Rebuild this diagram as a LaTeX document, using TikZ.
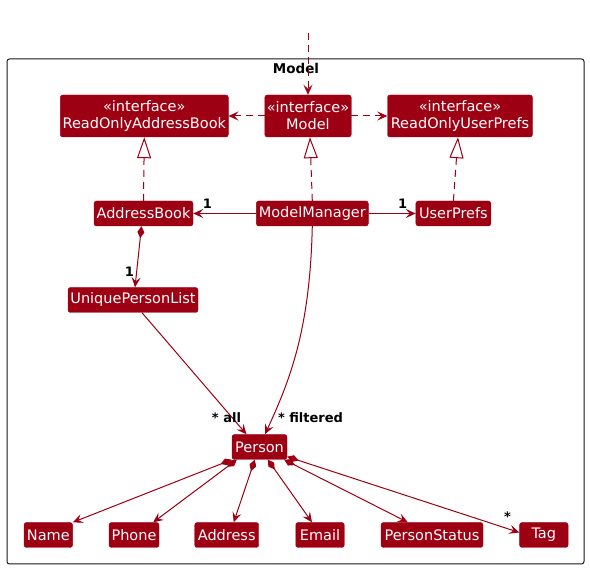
\documentclass[tikz,border=0pt]{standalone}
\usepackage{fontspec}
\setmainfont{DejaVu Sans}
\usetikzlibrary{arrows.meta,calc}
\definecolor{modelc}{HTML}{9D0012}
\definecolor{framec}{HTML}{181818}
\begin{document}
\begin{tikzpicture}[x=1pt,y=-1pt,
  cls/.style={draw=modelc, fill=modelc, text=white, rounded corners=2.5pt, minimum height=25pt, inner sep=0pt, font=\fontsize{14.5}{17}\selectfont, align=center},
  iface/.style={cls, minimum height=42pt},
  edge/.style={draw=modelc, line width=1pt},
  arr/.style={edge, -{Stealth[length=10pt,width=9pt,inset=4pt]}},
  dsh/.style={dash pattern=on 7pt off 5pt},
  real/.style={edge, dsh, -{Triangle[length=21pt,width=14pt,fill=white]}},
  comp/.style={edge, {Diamond[length=12pt,width=7pt]}-{Stealth[length=10pt,width=9pt,inset=4pt]}},
  lbl/.style={font=\fontsize{13}{13}\selectfont\bfseries, text=black, inner sep=0pt},
]
\useasboundingbox (0,0) rectangle (590,569);
% frame
\draw[framec, line width=1pt, rounded corners=2.5pt] (7,59) rectangle (584,564);
\node[font=\fontsize{13.5}{14}\selectfont\bfseries, inner sep=0pt] (title) at (296,68) {Model};

% nodes
\node[iface, minimum width=168pt] (roab) at (144.3,116) {«interface»\\ReadOnlyAddressBook};
\node[iface, minimum width=86.5pt] (model) at (308,116) {«interface»\\Model};
\node[iface, minimum width=145pt] (roup) at (460,116) {«interface»\\ReadOnlyUserPrefs};
\node[cls, minimum width=99pt] (ab) at (143.5,213.5) {AddressBook};
\node[cls, minimum width=112pt] (mm) at (312.3,213.5) {ModelManager};
\node[cls, minimum width=75pt] (up) at (453.4,213.5) {UserPrefs};
\node[cls, minimum width=130pt] (upl) at (133,300) {UniquePersonList};
\node[cls, minimum width=55pt] (person) at (259.5,447) {Person};
\node[cls, minimum width=48.6pt] (name) at (48.3,535) {Name};
\node[cls, minimum width=50pt] (phone) at (134,535) {Phone};
\node[cls, minimum width=64pt] (address) at (226.7,535) {Address};
\node[cls, minimum width=48.5pt] (email) at (320,535) {Email};
\node[cls, minimum width=102pt] (pstatus) at (432,535) {PersonStatus};
\node[cls, minimum width=48.5pt] (tag) at (543.8,535) {Tag};

% top incoming dependency
\coordinate (top) at (308,33);
\draw[arr, dsh] (top) -- (model.north);

% interface dependencies
\draw[arr, dsh] (model.west) -- (roab.east);
\draw[arr, dsh] (model.east) -- (roup.west);

% realizations
\draw[real] (ab.north) -- (roab.south);
\draw[real] (mm.north) -- ([xshift=2pt]model.south);
\draw[real] (up.north) -- ([xshift=-2pt]roup.south);

% associations
\draw[arr] (mm.west) -- (ab.east);
\node[lbl] (l1) at (207.5,204) {1};
\draw[arr] (mm.east) -- (up.west);
\node[lbl] (l2) at (402.6,204) {1};

\draw[comp] ([xshift=-2pt]ab.south) -- ([xshift=2pt]upl.north);
\node[lbl] (l3) at (129.5,272) {1};

\draw[arr] ([xshift=9pt]upl.south) -- ([xshift=-13pt]person.north);
\node[lbl] (lall) at (226.5,418) {* all};
\draw[arr] (mm.south) .. controls (310,330) and (290,380) .. ([xshift=5.5pt]person.north);
\node[lbl] (lfil) at (310.5,418) {* filtered};

% person compositions
\draw[comp] (person.south west) -- (name.north east);
\draw[comp] ([xshift=5pt]person.south west) -- ([xshift=-6pt]phone.north east);
\draw[comp] ([xshift=23pt]person.south west) -- ([xshift=7pt]address.north);
\draw[comp] ([xshift=36pt]person.south west) -- ([xshift=-8pt]email.north);
\draw[comp] ([xshift=-3pt]person.south east) -- ([xshift=27pt]pstatus.north west);
\draw[comp] ([yshift=3pt]person.south east) -- ([yshift=2.5pt]tag.west);
\node[lbl] (lstar) at (507.5,517) {*};
\end{tikzpicture}
\end{document}
